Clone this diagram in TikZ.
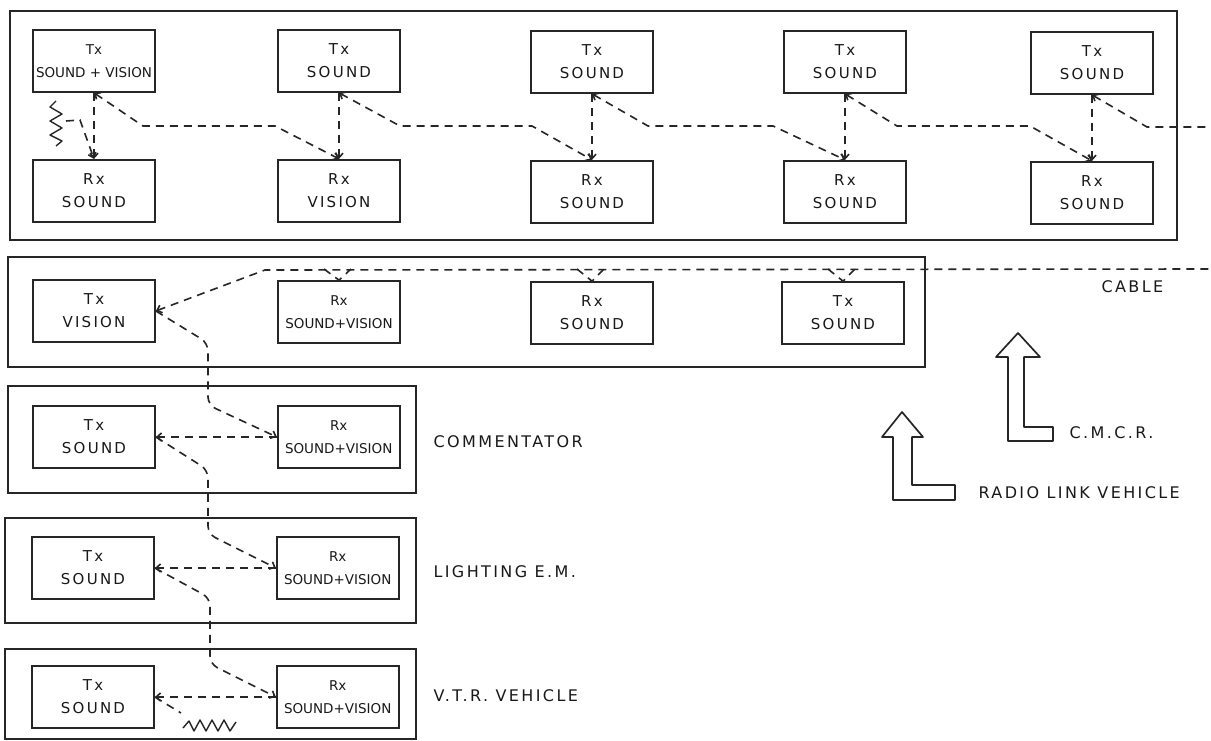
\documentclass[tikz,border=0pt]{standalone}
\usepackage{fontspec}
\setmainfont{DejaVu Sans}
\newfontfamily\handwide[LetterSpace=15]{DejaVu Sans}
\usetikzlibrary{arrows.meta,positioning}

\begin{document}
\begin{tikzpicture}[x=1pt,y=-1pt,font=\handwide\fontsize{15}{23}\selectfont,
  unit/.style={draw=black!85,line width=1.7pt,align=center,minimum width=122pt,minimum height=62pt,inner sep=1pt,text=black!90},
  svunit/.style={unit,font=\fontsize{13.5}{23}\selectfont},
  frame/.style={draw=black!85,line width=1.7pt},
  link/.style={draw=black!85,line width=1.6pt,dash pattern=on 8pt off 6pt},
  wig/.style={draw=black!85,line width=1.4pt,line join=round},
  tag/.style={anchor=west,text=black!90,font=\handwide\fontsize{16}{19}\selectfont},
  >={Straight Barb[length=4.5pt,width=8pt]}]
\fill[white] (0,0) rectangle (1211,741);
\useasboundingbox (0,0) rectangle (1211,741);
% group frames
\draw[frame] (10,11) rectangle (1177,240);
\draw[frame] (8,257) rectangle (925,367);
\draw[frame] (8,386) rectangle (416,493);
\draw[frame] (5,518) rectangle (416,623);
\draw[frame] (5,649) rectangle (416,739);
% top group
\node[svunit] (t1) at (94,61) {Tx\\SOUND + VISION};
\node[unit] (t2) at (339,61) {Tx\\SOUND};
\node[unit] (t3) at (592,62) {Tx\\SOUND};
\node[unit] (t4) at (845,62) {Tx\\SOUND};
\node[unit] (t5) at (1092,63) {Tx\\SOUND};
\node[unit,below=66pt of t1] (r1) {Rx\\SOUND};
\node[unit,below=66pt of t2] (r2) {Rx\\VISION};
\node[unit,below=66pt of t3] (r3) {Rx\\SOUND};
\node[unit,below=66pt of t4] (r4) {Rx\\SOUND};
\node[unit,below=66pt of t5] (r5) {Rx\\SOUND};
\coordinate (lineR) at (1211,127);
\foreach \i in {1,...,5} \draw[link,->] (t\i.south) -- (r\i.north);
\draw[link,<->] (t1.south) -- (143,126) -- (275,126) -- (r2.north);
\draw[link,<->] (t2.south) -- (400,126) -- (532,126) -- (r3.north);
\draw[link,<->] (t3.south) -- (648,126) -- (773,126) -- (r4.north);
\draw[link,<->] (t4.south) -- (897,126) -- (1030,126) -- (r5.north);
\draw[link,<-] (t5.south) -- (1147,127) -- (lineR);
% interference at first receiver
\coordinate (hum) at (66,121);
\draw[wig] (56,101) -- (50,107) -- (62,114) -- (50,121) -- (62,128) -- (50,135) -- (62,141) -- (56,146);
\draw[link,->] (hum) -- (80,120) -- (r1.north);
% cable group
\node[unit] (txv) at (94,311) {Tx\\VISION};
\node[svunit] (rsv) at (339,312) {Rx\\SOUND+VISION};
\node[unit] (rs) at (592,313) {Rx\\SOUND};
\node[unit] (ts) at (843,313) {Tx\\SOUND};
\coordinate (cableR) at (1211,269);
\draw[link,<-] (txv.east) -- (265,270) -- (cableR);
\draw[link] (324,269) -- (rsv.north) -- (351,269);
\draw[link] (577,269) -- (rs.north) -- (604,269);
\draw[link] (828,269) -- (ts.north) -- (855,269);
% commentator, lighting, vtr
\node[unit] (tcm) at (94,437) {Tx\\SOUND};
\node[svunit,right=121pt of tcm] (rcm) {Rx\\SOUND+VISION};
\node[unit] (tlt) at (93,568) {Tx\\SOUND};
\node[svunit,right=121pt of tlt] (rlt) {Rx\\SOUND+VISION};
\node[unit] (tvt) at (93,697) {Tx\\SOUND};
\node[svunit,right=121pt of tvt] (rvt) {Rx\\SOUND+VISION};
\draw[link,->,rounded corners=8pt] (txv.east) -- (208,343) -- (208,405) -- (rcm.west);
\draw[link,->] (rcm.west) -- (tcm.east);
\draw[link,->,rounded corners=8pt] (tcm.east) -- (208,470) -- (208,534) -- (rlt.west);
\draw[link,->] (rlt.west) -- (tlt.east);
\draw[link,->,rounded corners=8pt] (tlt.east) -- (210,598) -- (210,664) -- (rvt.west);
\draw[link,->] (rvt.west) -- (tvt.east);
\coordinate (hiss) at (181,713);
\draw[link] (tvt.east) -- (hiss);
\draw[wig] (183,728) -- (189,721) -- (194,731) -- (200,720) -- (206,731) -- (212,720) -- (218,731) -- (224,720) -- (230,731) -- (236,722);
% hollow pointers
\draw[frame,line join=round] (1018,333) -- (1040,357) -- (1024,357) -- (1024,427) -- (1053,427) -- (1053,441) -- (1008,441) -- (1008,357) -- (996,357) -- cycle;
\draw[frame,line join=round] (902,412) -- (923,437) -- (912,437) -- (912,485) -- (955,485) -- (955,500) -- (893,500) -- (893,437) -- (882,437) -- cycle;
% labels
\node[tag] (cable) at (1098,287) {CABLE};
\node[tag] (cmcr) at (1066,433) {C.M.C.R.};
\node[tag] (radio) at (975,493) {RADIO LINK VEHICLE};
\node[tag] (comm) at (430,442) {COMMENTATOR};
\node[tag] (light) at (430,572) {LIGHTING E.M.};
\node[tag] (vtr) at (430,696) {V.T.R. VEHICLE};
\end{tikzpicture}
\end{document}
